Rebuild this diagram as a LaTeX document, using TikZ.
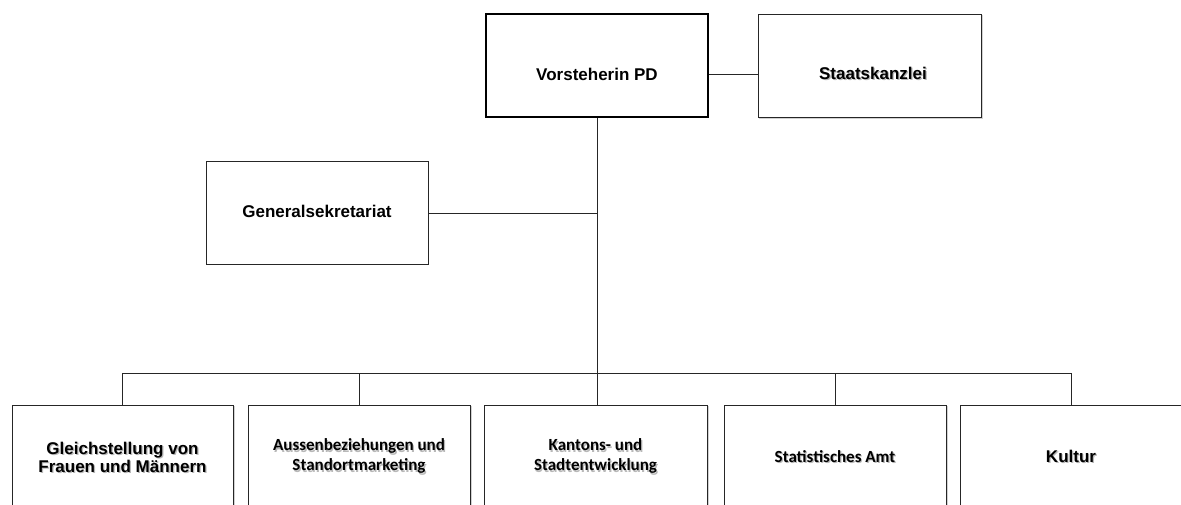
\documentclass[tikz,border=0pt]{standalone}
\usepackage{fontspec}
\setmainfont{Liberation Sans}
\newfontfamily\calfont{Carlito}
% text with a soft grey drop shadow
\newcommand\shadowed[1]{\leavevmode\rlap{\kern1.2pt\raisebox{-1.2pt}{\textcolor{black!28}{#1}}}#1}
\begin{document}
\begin{tikzpicture}[x=1pt,y=-1pt,
  unit/.style={draw=black!85,line width=0.9pt,minimum width=222pt,minimum height=103pt,
    inner sep=0pt,fill=white},
  shadowline/.style={draw=black!18,line width=1.4pt},
  head/.style={draw=black,line width=1.6pt,minimum width=222pt,minimum height=103pt,inner sep=0pt},
  lbl/.style={font=\bfseries\fontsize{17}{18.5}\selectfont,align=center,inner sep=0pt},
  clbl/.style={font=\calfont\bfseries\fontsize{17}{20}\selectfont,align=center,inner sep=0pt},
  link/.style={draw=black!85,line width=0.9pt}]
\useasboundingbox (0,0) rectangle (1181,505);
\clip (0,0) rectangle (1181,505);

% shadows behind the boxes
\foreach \cx/\cy/\w/\h in {869.5/65.5/223/103, 122.5/457/221/104, 359/457/222/104,
  595.5/457/223/104, 835/457/222/104, 1071/457/222/104}
  \draw[shadowline] (\cx-\w/2+1.6,\cy-\h/2+1.6) rectangle (\cx+\w/2+1.6,\cy+\h/2+1.6);

% top level
\node[head] (vp) at (597,65.5) {};
\node[lbl] (vpt) at (597,74) {Vorsteherin PD};
\node[unit,minimum width=223pt] (sk) at (869.5,65.5) {};
\node[lbl] (skt) at (873,74) {\shadowed{Staatskanzlei}};
\node[unit] (gs) at (317,213) {};
\node[lbl] (gst) at (317,211.5) {Generalsekretariat};

% offices
\node[unit,minimum width=221pt,minimum height=104pt] (o1) at (122.5,457) {};
\node[lbl] (o1t) at (122.5,458) {\shadowed{Gleichstellung von}\\\shadowed{Frauen und Männern}};
\node[unit,minimum height=104pt] (o2) at (359,457) {};
\node[clbl] (o2t) at (359,457) {\shadowed{Aussenbeziehungen und}\\\shadowed{Standortmarketing}};
\node[unit,minimum width=223pt,minimum height=104pt] (o3) at (595.5,457) {};
\node[clbl] (o3t) at (595.5,457) {\shadowed{Kantons- und}\\\shadowed{Stadtentwicklung}};
\node[unit,minimum height=104pt] (o4) at (835,457) {};
\node[clbl] (o4t) at (835,457) {\shadowed{Statistisches Amt}};
\node[unit,minimum height=104pt] (o5) at (1071,457) {};
\node[lbl] (o5t) at (1071,457) {\shadowed{Kultur}};

% connectors
\coordinate (bus) at (597,373);
\draw[link] (vp.east |- vpt) -- (sk.west |- vpt);
\draw[link] (vp.south) -- (bus);
\draw[link] (gs.east) -- (gs.east -| vp.south);
\draw[link] (o1.north |- bus) -- (o5.north |- bus);
\foreach \o in {o1,o2,o4,o5}
  \draw[link] (\o.north |- bus) -- (\o.north);
\draw[link] (bus) -- (bus |- o3.north);
\end{tikzpicture}
\end{document}
